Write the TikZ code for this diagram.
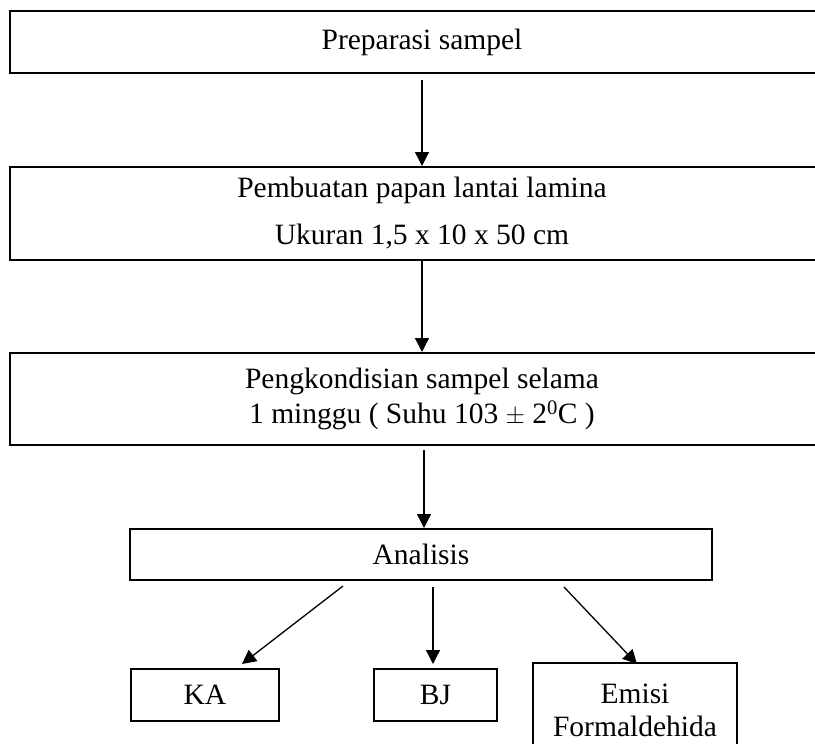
\documentclass[tikz,border=0pt]{standalone}
\usepackage{fontspec}
\setmainfont{Liberation Serif}
\usetikzlibrary{arrows.meta}
\begin{document}
\begin{tikzpicture}[x=1pt,y=-1pt,
  box/.style={draw,line width=2pt,inner sep=0pt,align=center,font=\fontsize{29.5}{40}\selectfont},
  arr/.style={line width=1.3pt,-{Triangle[length=14pt,width=14pt]}}]
\useasboundingbox (0,0) rectangle (815,744);
\clip (0,0) rectangle (815,744);
\node[box,minimum width=824pt,minimum height=62pt] (prep) at (422,42) {Preparasi sampel};
\node[box,minimum width=824pt,minimum height=93pt,font=\fontsize{29.5}{47}\selectfont] (buat) at (422,213.5) {Pembuatan papan lantai lamina\\Ukuran 1,5 x 10 x 50 cm};
\node[box,minimum width=824pt,minimum height=92pt,font=\fontsize{29.5}{35}\selectfont] (kond) at (422,399) {Pengkondisian sampel selama\\1 minggu ( Suhu 103 $\pm$ 2\textsuperscript{0}C )};
\node[box,minimum width=582pt,minimum height=51pt] (ana) at (421,554.5) {Analisis};
\node[box,minimum width=148pt,minimum height=52pt] (ka) at (205,695) {KA};
\node[box,minimum width=123pt,minimum height=52pt] (bj) at (435.5,695) {BJ};
\node[box,minimum width=204pt,minimum height=95pt,font=\fontsize{29.5}{33}\selectfont] (emisi) at (635,710.5) {Emisi\\Formaldehida};
\draw[arr] ([yshift=-6pt]prep.south) -- (buat.north);
\draw[arr] (buat.south) -- (kond.north);
\draw[arr] ([xshift=2pt,yshift=-4pt]kond.south) -- ([xshift=3pt]ana.north);
\draw[arr] ([xshift=-78pt,yshift=-5pt]ana.south) -- ([xshift=37pt,yshift=4pt]ka.north);
\draw[arr] ([xshift=12pt,yshift=-6pt]ana.south) -- ([xshift=-2.5pt,yshift=4pt]bj.north);
\draw[arr] ([xshift=143pt,yshift=-6pt]ana.south) -- ([xshift=2pt,yshift=-2pt]emisi.north);
\end{tikzpicture}
\end{document}
